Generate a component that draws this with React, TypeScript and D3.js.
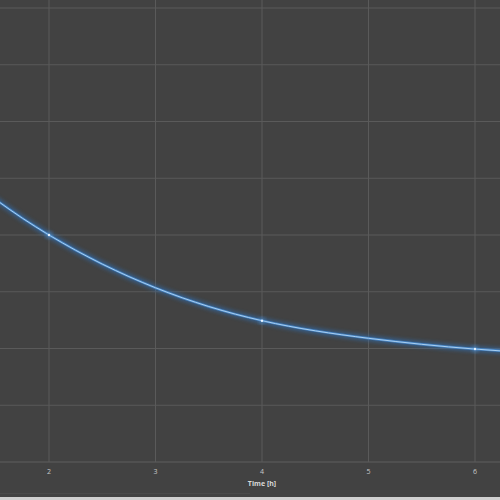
import React from "react";
import * as d3 from "d3";

const timeH = [0, 1, 2, 3, 4, 5, 6, 7];
const values = [7.4, 5.4, 4.0, 3.07, 2.49, 2.18, 1.99, 1.88];
const markerTimes = [2, 4, 6];
const xTicks = [2, 3, 4, 5, 6];
const yTicks = [0, 1, 2, 3, 4, 5, 6, 7, 8];
const xLabel = "Time [h]";

export default function App() {
  const W = 500, H = 500;
  const x = d3.scaleLinear().domain([2, 6]).range([49, 475]);
  const y = d3.scaleLinear().domain([0, 8]).range([462, 8]);
  const pts: [number, number][] = timeH.map((t, i) => [x(t), y(values[i])]);
  const markers = pts.filter((_, i) => markerTimes.includes(timeH[i]));
  const line = d3.line<[number, number]>().x(d => d[0]).y(d => d[1]).curve(d3.curveNatural);
  const path = line(pts) || "";
  const bg = "#424242";
  const grid = "#5a5a5a";
  return (
    <svg width={W} height={H} style={{ position: "absolute", left: 0, top: 0 }}>
      <defs>
        <filter id="glow" x="-20%" y="-20%" width="140%" height="140%">
          <feGaussianBlur stdDeviation="2" />
        </filter>
        <clipPath id="clip">
          <rect x={0} y={0} width={W} height={462} />
        </clipPath>
      </defs>
      <rect x={0} y={0} width={W} height={H} fill={bg} />
      {yTicks.map(v => (
        <line key={"gy" + v} x1={0} x2={W} y1={y(v)} y2={y(v)} stroke={v === 0 ? "#5e5e5e" : grid} strokeWidth={1} />
      ))}
      {xTicks.map(v => (
        <line key={"gx" + v} x1={x(v)} x2={x(v)} y1={0} y2={y(0)} stroke={grid} strokeWidth={1} />
      ))}
      <g clipPath="url(#clip)">
        <path d={path} fill="none" stroke="#2f6fb5" strokeWidth={5} opacity={0.7} filter="url(#glow)" />
        <path d={path} fill="none" stroke="#4a8ed6" strokeWidth={2.4} opacity={0.8} />
        <path d={path} fill="none" stroke="#a9cff0" strokeWidth={1} />
        {markers.map((p, i) => (
          <g key={"m" + i}>
            <circle cx={p[0]} cy={p[1]} r={3} fill="#5a9ad8" opacity={0.6} filter="url(#glow)" />
            <circle cx={p[0]} cy={p[1]} r={1.2} fill="#e8f4ff" />
          </g>
        ))}
      </g>
      {xTicks.map(v => (
        <text key={"tx" + v} x={x(v)} y={472} textAnchor="middle" dominantBaseline="middle"
          fontFamily="'Open Sans', sans-serif" fontSize={7} fill="#c8c8c8">{v}</text>
      ))}
      <text x={262} y={484} textAnchor="middle" dominantBaseline="middle"
        fontFamily="'Open Sans', sans-serif" fontSize={7} fontWeight="bold" fill="#d8d8d8">{xLabel}</text>
      <line x1={0} x2={250} y1={493.5} y2={493.5} stroke="#4a4a4a" strokeWidth={1} />
      <rect x={0} y={497} width={W} height={3} fill="#d0d0d0" />
    </svg>
  );
}
